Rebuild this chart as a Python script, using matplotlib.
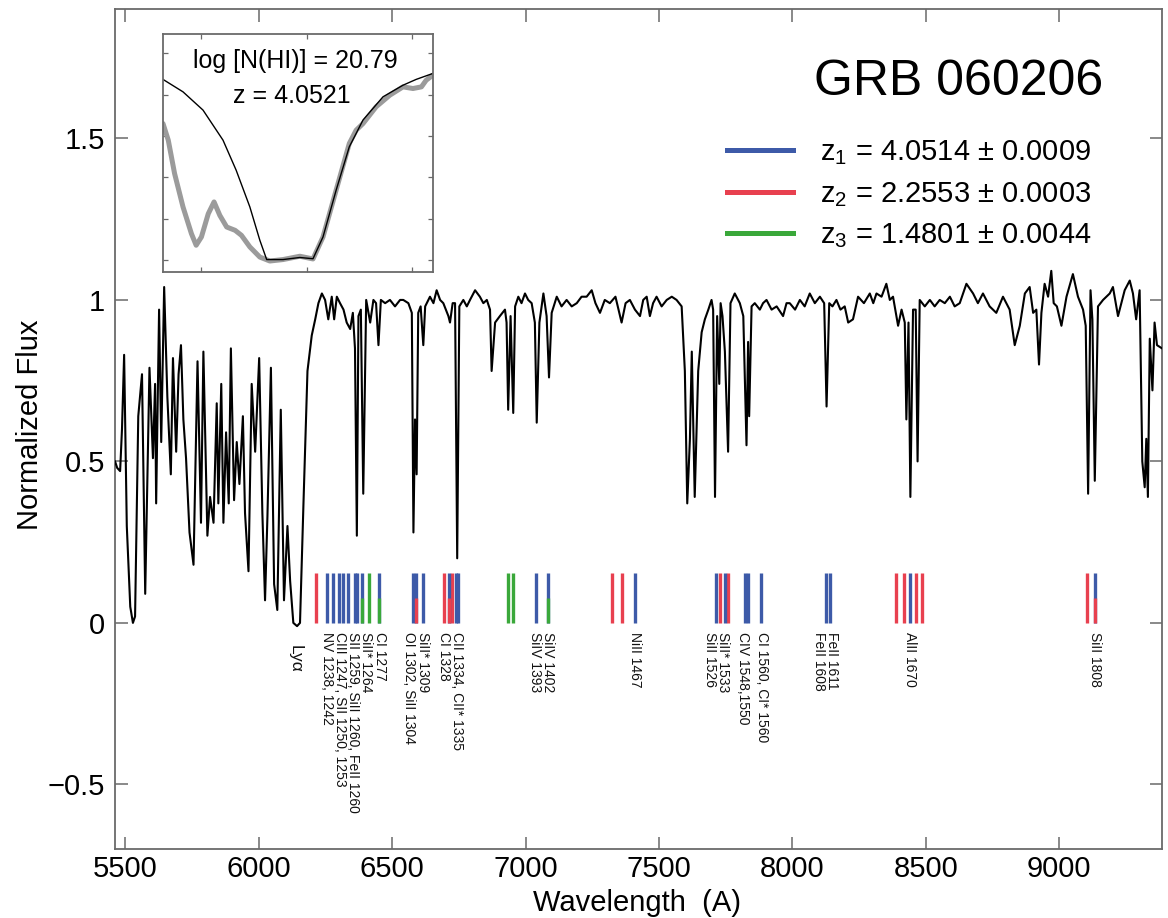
import matplotlib
matplotlib.use('Agg')
import matplotlib.pyplot as plt
from matplotlib import font_manager as fm
from matplotlib.lines import Line2D

plt.rcParams['font.family'] = ['Liberation Sans', 'DejaVu Sans']
plt.rcParams['mathtext.fontset'] = 'custom'
plt.rcParams['mathtext.rm'] = 'Liberation Sans'
plt.rcParams['mathtext.it'] = 'Liberation Sans'
plt.rcParams['mathtext.default'] = 'regular'
plt.rcParams['axes.unicode_minus'] = True

try:
    fm.findfont('Liberation Sans Narrow', fallback_to_default=False)
    NARROW = ['Liberation Sans Narrow', 'Liberation Sans', 'DejaVu Sans']
except Exception:
    NARROW = ['Liberation Sans', 'DejaVu Sans']

# ---------------- data ----------------
wave = [5462, 5470, 5481, 5488, 5496, 5506, 5519, 5529, 5537, 5549, 5563, 5575, 5591, 5604,
        5612, 5616, 5627, 5635, 5646, 5658, 5671, 5679, 5691, 5700, 5709, 5718, 5728, 5741,
        5756, 5771, 5784, 5793, 5808, 5818, 5831, 5843, 5849, 5860, 5868, 5878, 5888, 5896,
        5908, 5918, 5928, 5941, 5949, 5962, 5974, 5987, 6002, 6014, 6024, 6033, 6046, 6058,
        6070, 6083, 6095, 6108, 6118, 6130, 6144, 6155, 6168, 6183, 6199, 6212, 6224, 6237,
        6249, 6261, 6274, 6283, 6293, 6305, 6318, 6330, 6343, 6353, 6361, 6368, 6374, 6383,
        6392, 6403, 6418, 6430, 6440, 6449, 6458, 6474, 6492, 6511, 6530,
        6542, 6561, 6574, 6580, 6586, 6592, 6598, 6607, 6617, 6624, 6642, 6655, 6667, 6680,
        6692, 6711, 6717, 6727, 6736, 6744, 6752, 6767, 6780, 6792, 6811, 6829, 6842, 6855,
        6867, 6873, 6886, 6904, 6923, 6929, 6935, 6944, 6954, 6961, 6973, 6985, 6998, 7010,
        7023, 7035, 7042, 7052, 7067, 7079, 7088, 7098, 7117, 7135, 7154, 7173, 7192, 7210,
        7229, 7248, 7262, 7279, 7297, 7316, 7337, 7360, 7375, 7391, 7410, 7429, 7441, 7454,
        7466, 7478, 7491, 7510, 7529, 7548, 7566, 7585, 7597, 7606, 7616, 7623, 7634, 7647,
        7660, 7672, 7685, 7697, 7703, 7710, 7718, 7726, 7731, 7738, 7747, 7759, 7768, 7784,
        7803, 7816, 7828, 7834, 7838, 7847, 7859, 7878, 7890, 7903, 7922, 7941,
        7965, 7978, 7990, 8010, 8028, 8046, 8065, 8084, 8103, 8119, 8128, 8138, 8150, 8165,
        8180, 8196, 8209, 8227, 8246, 8268, 8290, 8303, 8315, 8334, 8352, 8365, 8377, 8396,
        8409, 8421, 8427, 8435, 8442, 8452, 8462, 8469, 8477, 8496, 8515, 8533, 8552, 8571,
        8590, 8608, 8627, 8652, 8677, 8695, 8714, 8739, 8764, 8789, 8814, 8833, 8852, 8871,
        8889, 8902, 8914, 8924, 8933, 8945, 8958, 8970, 8979, 8991, 9008, 9027, 9051, 9070,
        9089, 9099, 9108, 9117, 9124, 9133, 9145, 9164, 9189, 9201, 9220, 9245, 9264, 9276,
        9288, 9301, 9311, 9320, 9326, 9332, 9339, 9349, 9357, 9366, 9385]
flux = [0.50, 0.48, 0.47, 0.60, 0.83, 0.30, 0.05, 0.00, 0.02, 0.64, 0.77, 0.09, 0.79, 0.51,
        0.74, 0.37, 0.97, 0.56, 1.04, 0.70, 0.46, 0.82, 0.53, 0.77, 0.86, 0.63, 0.51, 0.28,
        0.18, 0.81, 0.31, 0.84, 0.27, 0.39, 0.31, 0.68, 0.37, 0.74, 0.31, 0.59, 0.37, 0.85,
        0.38, 0.56, 0.43, 0.64, 0.34, 0.16, 0.74, 0.53, 0.82, 0.34, 0.07, 0.33, 0.79, 0.12,
        0.04, 0.66, 0.07, 0.30, 0.13, 0.00, -0.01, 0.00, 0.37, 0.78, 0.89, 0.94, 0.99, 1.02,
        1.00, 0.94, 1.01, 0.94, 1.01, 0.99, 0.97, 0.93, 0.91, 0.96, 0.85, 0.27, 0.95, 0.97,
        0.40, 1.00, 0.93, 1.00, 0.99, 0.86, 1.00, 0.99, 1.00, 0.98, 1.00,
        1.00, 0.99, 0.96, 0.28, 0.63, 0.46, 0.96, 0.98, 0.86, 0.98, 1.01, 0.99, 1.03, 1.00,
        0.99, 0.95, 0.93, 0.99, 0.99, 0.20, 0.98, 1.00, 0.98, 1.00, 1.03, 1.01, 0.99, 1.00,
        0.97, 0.78, 0.93, 0.95, 0.97, 0.93, 0.66, 0.95, 0.65, 0.98, 1.01, 0.99, 1.02, 1.00,
        0.99, 0.93, 0.62, 0.93, 1.02, 0.95, 0.76, 0.96, 1.01, 0.98, 1.00, 0.98, 0.99, 1.01,
        1.01, 1.03, 0.99, 0.96, 1.00, 0.99, 1.01, 0.93, 0.99, 1.00, 0.97, 0.95, 1.00, 1.01,
        0.95, 0.99, 1.01, 0.98, 1.00, 1.01, 1.00, 0.98, 0.78, 0.37, 0.57, 0.84, 0.39, 0.78,
        0.90, 0.94, 0.97, 1.00, 0.97, 0.39, 0.95, 0.74, 0.99, 0.95, 0.84, 0.53, 0.99, 1.02,
        0.99, 0.95, 0.55, 0.87, 0.64, 0.98, 0.99, 0.97, 0.99, 1.00, 0.97, 0.98,
        0.95, 0.99, 0.99, 0.97, 1.00, 0.98, 1.02, 0.99, 1.01, 0.99, 0.67, 0.99, 0.98, 1.00,
        0.97, 0.98, 0.93, 0.94, 1.01, 0.99, 1.02, 0.99, 1.02, 1.01, 1.05, 1.00, 1.01, 0.92,
        0.97, 0.93, 0.63, 0.93, 0.39, 0.97, 0.97, 0.50, 1.00, 0.98, 1.00, 0.98, 1.00, 0.99,
        1.01, 0.98, 0.99, 1.05, 1.02, 0.99, 1.02, 0.98, 0.96, 1.01, 0.97, 0.86, 0.92, 1.02,
        1.04, 0.96, 0.97, 0.80, 0.96, 1.05, 1.01, 1.09, 0.99, 0.98, 0.92, 1.01, 1.08, 1.01,
        0.97, 0.92, 0.40, 1.03, 0.94, 0.44, 0.98, 1.00, 1.02, 1.04, 0.95, 1.03, 1.06, 1.02,
        0.94, 1.03, 0.50, 0.42, 0.57, 0.39, 0.88, 0.72, 0.93, 0.86, 0.85]

# absorption line markers (observed wavelength, Angstrom)
z1_lines = [6258, 6278, 6301, 6317, 6333, 6362, 6367, 6389, 6452, 6578, 6589, 6614,
            6712, 6741, 6747, 7040, 7086, 7412, 7712, 7746, 7821, 7834, 7882, 8125, 8139,
            8440, 9133]
z2_lines = [6216, 6589, 6694, 6712, 6726, 7324, 7360, 7730, 7757, 8389, 8420, 8464, 8485,
            9103, 9133]
z3_lines = [6389, 6415, 6452, 6935, 6953, 7080]

label_text = ['NV 1238, 1242', 'CIII 1247, SII 1250, 1253', 'SII 1259, SiII 1260, FeII 1260',
              'SiII* 1264', 'CI 1277', 'OI 1302, SiII 1304', 'SiII* 1309', 'CI 1328',
              'CII 1334, CII* 1335', 'SiIV 1393', 'SiIV 1402', 'NiII 1467', 'SiII 1526',
              'SiII* 1533', 'CIV 1548,1550', 'CI 1560, CI* 1560', 'FeII 1608', 'FeII 1611',
              'AlII 1670', 'SiII 1808']
label_wave = [6258, 6306, 6355, 6404, 6454, 6564, 6615, 6693, 6743, 7035, 7084, 7410,
              7693, 7741, 7814, 7886, 8101, 8150, 8440, 9133]

legend_text = [r'z$_1$ = 4.0514 ± 0.0009', r'z$_2$ = 2.2553 ± 0.0003',
               r'z$_3$ = 1.4801 ± 0.0044']

# inset (Ly-alpha DLA fit)
inset_model_w = [5927, 5965, 6003, 6041, 6066, 6092, 6111, 6124, 6155, 6187, 6212, 6231,
                 6256, 6281, 6307, 6345, 6383, 6408, 6440]
inset_model_f = [0.873, 0.813, 0.725, 0.580, 0.435, 0.258, 0.097, 0.004, 0.004, 0.014,
                 0.008, 0.113, 0.339, 0.548, 0.677, 0.789, 0.845, 0.873, 0.902]
inset_data_w = [5927, 5937, 5949, 5965, 5981, 5990, 6000, 6013, 6024, 6035, 6048, 6064,
                6076, 6092, 6111, 6130, 6155, 6187, 6212, 6231, 6256, 6281, 6294, 6307,
                6332, 6358, 6383, 6402, 6418, 6427, 6440]
inset_data_f = [0.660, 0.580, 0.419, 0.258, 0.129, 0.073, 0.113, 0.225, 0.282, 0.217,
                0.161, 0.145, 0.121, 0.065, 0.016, -0.003, 0.004, 0.020, 0.007, 0.113,
                0.339, 0.564, 0.628, 0.660, 0.741, 0.797, 0.837, 0.829, 0.837, 0.869, 0.894]

BLUE = '#3d5aa8'
RED = '#e8404f'
GREEN = '#3aa83a'
FRAME = '#6a6a6a'

# ---------------- figure ----------------
fig = plt.figure(figsize=(11.68, 9.18), dpi=100)
ax = fig.add_axes([0.0985, 0.0752, 0.8964, 0.9147])
ax.plot(wave, flux, color='black', lw=1.5, zorder=3)
ax.set_xlim(5462, 9385)
ax.set_ylim(-0.7, 1.9)

ax.set_xticks([5500, 6000, 6500, 7000, 7500, 8000, 8500, 9000])
ax.set_yticks([-0.5, 0, 0.5, 1, 1.5])
ax.set_yticklabels(['\u22120.5', '0', '0.5', '1', '1.5'])
ax.tick_params(direction='in', length=9, width=1.1, color=FRAME, labelsize=21,
               top=True, right=True)
ax.tick_params(axis='x', pad=4)
ax.tick_params(axis='y', pad=7)
for s in ax.spines.values():
    s.set_color(FRAME)
    s.set_linewidth(1.3)

# line markers
MTOP = 0.155
MMID = 0.078
others = [(w, RED) for w in z2_lines] + [(w, GREEN) for w in z3_lines]
blended = []
for w, c in others:
    near = [b for b in z1_lines if abs(b - w) <= 6]
    if near:
        blended.append((near[0], c))
    else:
        ax.vlines(w, 0, MTOP, color=c, lw=2.4, zorder=2)
ax.vlines(z1_lines, 0, MTOP, color=BLUE, lw=2.4, zorder=2)
for w, c in blended:
    ax.vlines(w, 0, MMID, color=c, lw=2.4, zorder=2.5)

for t, w in zip(label_text, label_wave):
    ax.text(w, -0.028, t, rotation=-90, ha='center', va='top', fontsize=10,
            family=NARROW, color='#111111')
ax.text(6137, -0.068, 'Ly\u03b1', rotation=-90, ha='center', va='top', fontsize=12.5,
        color='#111111')

# title and legend
ax.text(9163, 1.635, 'GRB 060206', ha='right', va='baseline', fontsize=36)
leg_y = [1.433, 1.303, 1.177]
for t, c, y in zip(legend_text, [BLUE, RED, GREEN], leg_y):
    ax.add_line(Line2D([7754, 8002], [y + 0.031, y + 0.031], color=c, lw=3.6))
    ax.text(8103, y, t, ha='left', va='baseline', fontsize=21)

fig.text(637 / 1168, 1 - 911 / 918, 'Wavelength  (A)', ha='center', va='baseline',
         fontsize=21)
fig.text(30 / 1168, 1 - 425 / 918, 'Normalized Flux', ha='center', va='center',
         rotation=90, fontsize=21)

# inset
axin = fig.add_axes([163 / 1168, 1 - 272 / 918, 270 / 1168, 238 / 918])
axin.plot(inset_data_w, inset_data_f, color='#9b9b9b', lw=3.6, solid_capstyle='round')
axin.plot(inset_model_w, inset_model_f, color='black', lw=1.0)
axin.set_xlim(5927, 6440)
axin.set_ylim(-0.056, 1.092)
axin.set_xticks([6000, 6200, 6400])
axin.set_yticks([0, 0.2, 0.4, 0.6, 0.8, 1.0])
axin.tick_params(direction='in', length=3.5, width=0.9, color=FRAME, top=True,
                 right=True, labelbottom=False, labelleft=False)
for s in axin.spines.values():
    s.set_color(FRAME)
    s.set_linewidth(1.3)
axin.text(0.489, 0.857, 'log [N(HI)] = 20.79', transform=axin.transAxes, ha='center',
          va='baseline', fontsize=18)
axin.text(0.478, 0.71, 'z = 4.0521', transform=axin.transAxes, ha='center',
          va='baseline', fontsize=18)

fig.savefig('out.png', dpi=100)
